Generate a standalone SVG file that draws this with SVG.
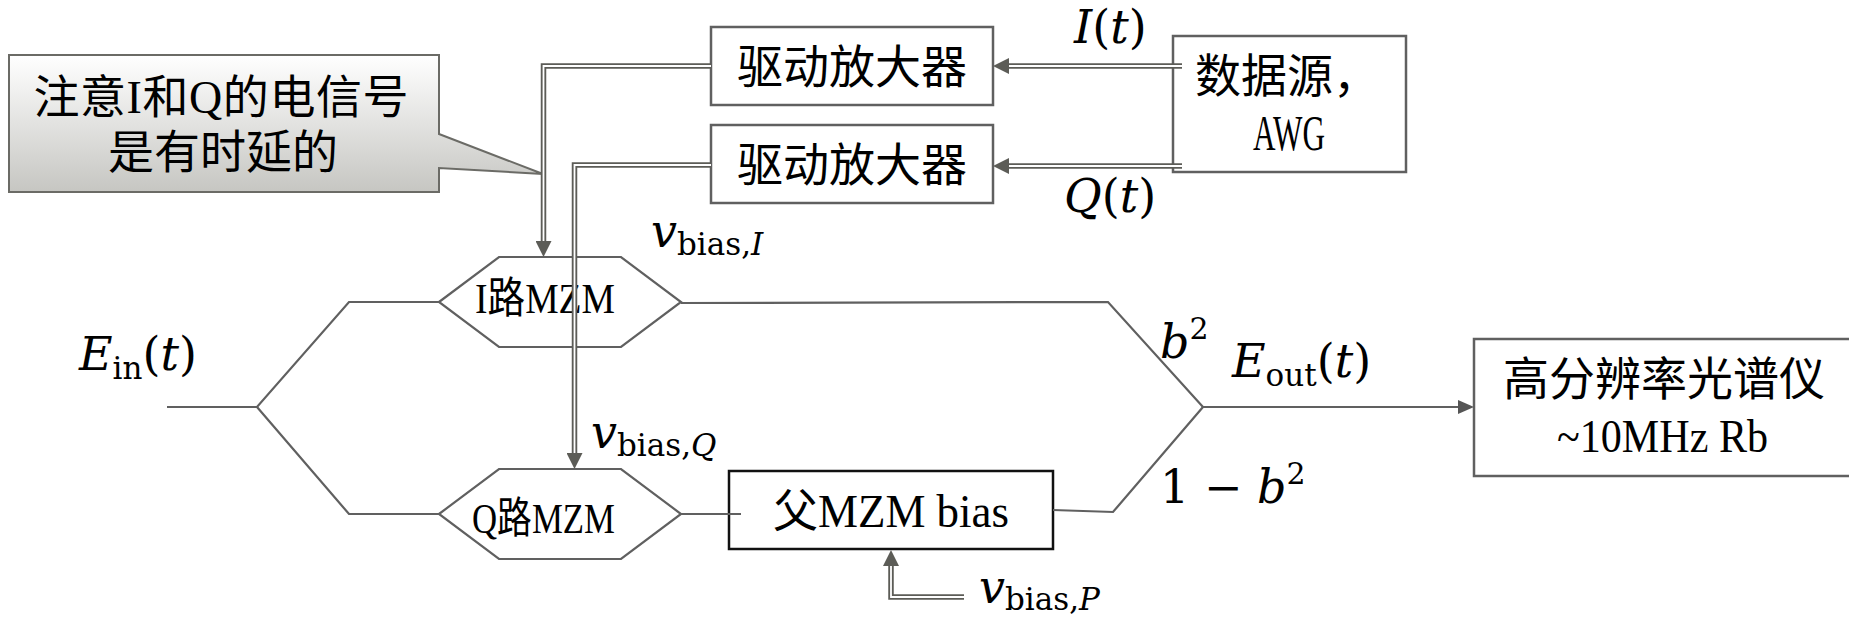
<svg xmlns="http://www.w3.org/2000/svg" width="1849" height="620" viewBox="0 0 1849 620">
<style>
.box{fill:#fff;stroke:#606060;stroke-width:2.5}
.fbox{fill:#fff;stroke:#111;stroke-width:2.5}
.hex{fill:none;stroke:#606060;stroke-width:2.2}
.wg{fill:none;stroke:#606060;stroke-width:2.2;stroke-linejoin:miter}
.dbo{fill:none;stroke:#5c5c57;stroke-width:5.5;stroke-linejoin:miter}
.dbi{fill:none;stroke:#fff;stroke-width:1.8;stroke-linejoin:miter}
.cjk{font-family:"Liberation Serif","Noto Sans CJK SC",serif;font-size:46px;fill:#000}
.math{font-family:"DejaVu Serif",serif;font-size:46px;fill:#000}
.sub{font-size:31px}
.it{font-style:italic}
</style>
<defs>
<linearGradient id="cg" x1="0" y1="0" x2="0" y2="1">
<stop offset="0" stop-color="#ffffff"/>
<stop offset="1" stop-color="#c6c6c2"/>
</linearGradient>
<marker id="ah" viewBox="0 0 16 16" refX="0" refY="8" markerWidth="16" markerHeight="16" markerUnits="userSpaceOnUse" orient="auto">
<path d="M0,0 L16,8 L0,16 Z" fill="#5c5c57"/>
</marker>
<marker id="ah2" viewBox="0 0 16 14" refX="0" refY="7" markerWidth="16" markerHeight="14" markerUnits="userSpaceOnUse" orient="auto">
<path d="M0,0 L16,7 L0,14 Z" fill="#555"/>
</marker>
</defs>
<rect width="1849" height="620" fill="#fff"/>

<g id="callout">
<path d="M9,55 H439 V134 L543,174 L439,168 V192 H9 Z" fill="url(#cg)" stroke="#6b6b66" stroke-width="2"/>
<text class="cjk" x="221" y="113" text-anchor="middle" textLength="375">注意I和Q的电信号</text>
<text class="cjk" x="223" y="168" text-anchor="middle">是有时延的</text>
</g>

<g id="driverI">
<rect class="box" x="711" y="27" width="282" height="78"/>
<text class="cjk" x="852" y="83" text-anchor="middle">驱动放大器</text>
</g>
<g id="driverQ">
<rect class="box" x="711" y="125" width="282" height="78"/>
<text class="cjk" x="852" y="181" text-anchor="middle">驱动放大器</text>
</g>
<g id="awg">
<rect class="box" x="1173" y="36" width="233" height="136"/>
<text class="cjk" x="1195" y="92">数据源，</text>
<text class="cjk" x="1253" y="150" style="font-size:51px" textLength="72" lengthAdjust="spacingAndGlyphs">AWG</text>
</g>
<g id="mzmI">
<polygon class="hex" points="439,302 499,257 621,257 681,302 621,347 499,347"/>
<text class="cjk" x="475" y="313" style="font-size:43px" textLength="140" lengthAdjust="spacingAndGlyphs">I路MZM</text>
</g>
<g id="mzmQ">
<polygon class="hex" points="439,514 499,469 621,469 681,514 621,559 499,559"/>
<text class="cjk" x="472" y="533" style="font-size:43px" textLength="143" lengthAdjust="spacingAndGlyphs">Q路MZM</text>
</g>
<g id="parent">
<rect class="fbox" x="729" y="471" width="324" height="78"/>
<text class="cjk" x="773" y="527" textLength="236" lengthAdjust="spacingAndGlyphs">父MZM bias</text>
</g>
<g id="osa">
<rect class="box" x="1474" y="339" width="380" height="137"/>
<text class="cjk" x="1664" y="395" text-anchor="middle">高分辨率光谱仪</text>
<text class="cjk" x="1557" y="452" textLength="211" lengthAdjust="spacingAndGlyphs">~10MHz Rb</text>
</g>

<g id="connectors">
<path class="wg" d="M167,407 H257 L349,302 H439"/>
<path class="wg" d="M257,407 L349,514 H439"/>
<path class="wg" d="M681,303 L1108,302 L1203,407"/>
<path class="wg" d="M681,514 H741"/>
<path class="wg" d="M1053,510 L1113,512 L1203,407"/>
<path class="wg" d="M1203,407 H1458" marker-end="url(#ah2)"/>

<path class="dbo" d="M1182,66 H1009" marker-end="url(#ah)"/>
<path class="dbi" d="M1182,66 H1009"/>
<path class="dbo" d="M1182,166 H1009" marker-end="url(#ah)"/>
<path class="dbi" d="M1182,166 H1009"/>
<path class="dbo" d="M711,66 H543.5 V241" marker-end="url(#ah)"/>
<path class="dbi" d="M711,66 H543.5 V241"/>
<path class="dbo" d="M711,165 H574.5 V453" marker-end="url(#ah)"/>
<path class="dbi" d="M711,165 H574.5 V453"/>
<path class="dbo" d="M964,597 H891 V566" marker-end="url(#ah)"/>
<path class="dbi" d="M964,597 H891 V566"/>
</g>

<g id="labels">
<text class="math" x="79" y="370"><tspan class="it">E</tspan><tspan class="sub" dy="9">in</tspan><tspan dy="-9">(</tspan><tspan class="it">t</tspan>)</text>
<text class="math" x="1232" y="377"><tspan class="it">E</tspan><tspan class="sub" dy="9">out</tspan><tspan dy="-9">(</tspan><tspan class="it">t</tspan>)</text>
<text class="math" x="1074" y="43"><tspan class="it">I</tspan>(<tspan class="it">t</tspan>)</text>
<text class="math" x="1064" y="212"><tspan class="it">Q</tspan>(<tspan class="it">t</tspan>)</text>
<text class="math" x="1160" y="358"><tspan class="it">b</tspan><tspan style="font-size:30px" dy="-19">2</tspan></text>
<text class="math" x="1160" y="503">1 − <tspan class="it">b</tspan><tspan style="font-size:30px" dy="-19">2</tspan></text>
<text class="math" x="651" y="247"><tspan class="it">v</tspan><tspan class="sub" dy="8">bias,</tspan><tspan class="it sub">I</tspan></text>
<text class="math" x="591" y="448"><tspan class="it">v</tspan><tspan class="sub" dy="8">bias,</tspan><tspan class="it sub">Q</tspan></text>
<text class="math" x="979" y="603"><tspan class="it">v</tspan><tspan class="sub" dy="7">bias,</tspan><tspan class="it sub">P</tspan></text>
</g>
</svg>
